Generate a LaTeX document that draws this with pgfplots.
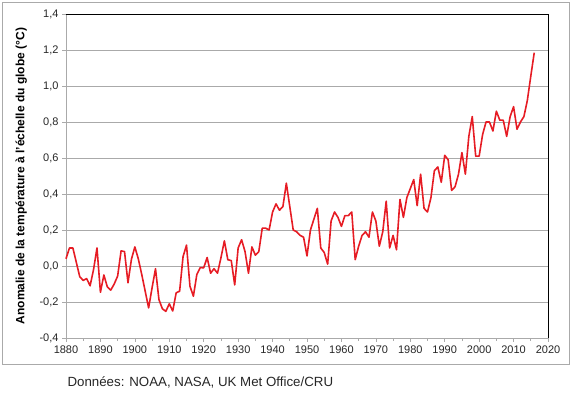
\documentclass[border=0pt]{standalone}
\usepackage{pgfplots}
\pgfplotsset{compat=1.18}
\usepackage{fontspec}
\setmainfont{Liberation Sans}
\definecolor{gridgray}{RGB}{170,170,170}
\definecolor{linered}{RGB}{230,28,36}
\begin{document}
\begin{tikzpicture}[x=1pt,y=1pt]
\path[use as bounding box] (0,0) rectangle (572,395);
\draw[gridgray,line width=0.8pt] (2,31) rectangle (569,393);
\begin{axis}[
  at={(66pt,57pt)}, anchor=south west,
  scale only axis, width=482pt, height=324pt,
  xmin=1880, xmax=2020, ymin=-0.4, ymax=1.4,
  xtick={1880,1890,...,2020},
  minor xtick={1885,1895,...,2015},
  ytick={-0.4,-0.2,...,1.41},
  xtick pos=bottom, ytick pos=left,
  tick align=outside,
  major tick length=4pt, minor tick length=3pt,
  every tick/.style={gridgray,line width=0.6pt},
  ymajorgrids, major grid style={gridgray,line width=0.7pt},
  axis line style={gridgray,line width=0.8pt},
  /pgf/number format/assume math mode=true,
  xticklabel style={/pgf/number format/.cd,set thousands separator={},fixed},
  yticklabel style={/pgf/number format/.cd,use comma,fixed,fixed zerofill,precision=1},
  ticklabel style={font=\fontsize{11}{13}\selectfont, text=black!85},
  ylabel={\textbf{Anomalie de la température à l'échelle du globe (°C)}},
  ylabel style={font=\fontsize{12}{14}\selectfont, at={(axis description cs:-0.093,0.5)}, anchor=center},
  clip=false,
]
\addplot[linered, line width=1.6pt, line join=round] coordinates {
(1880,0.04)(1881,0.10)(1882,0.10)(1883,0.02)(1884,-0.06)(1885,-0.08)(1886,-0.07)(1887,-0.11)(1888,-0.02)(1889,0.10)
(1890,-0.146)(1891,-0.05)(1892,-0.116)(1893,-0.134)(1894,-0.10)(1895,-0.056)(1896,0.084)(1897,0.08)(1898,-0.093)(1899,0.037)
(1900,0.106)(1901,0.04)(1902,-0.047)(1903,-0.14)(1904,-0.233)(1905,-0.121)(1906,-0.015)(1907,-0.187)(1908,-0.238)(1909,-0.252)
(1910,-0.21)(1911,-0.25)(1912,-0.149)(1913,-0.14)(1914,0.052)(1915,0.116)(1916,-0.112)(1917,-0.168)(1918,-0.047)(1919,-0.009)
(1920,-0.01)(1921,0.047)(1922,-0.04)(1923,-0.015)(1924,-0.04)(1925,0.045)(1926,0.14)(1927,0.035)(1928,0.03)(1929,-0.105)
(1930,0.10)(1931,0.146)(1932,0.08)(1933,-0.04)(1934,0.106)(1935,0.06)(1936,0.08)(1937,0.21)(1938,0.21)(1939,0.20)
(1940,0.30)(1941,0.345)(1942,0.31)(1943,0.33)(1944,0.46)(1945,0.33)(1946,0.20)(1947,0.19)(1948,0.17)(1949,0.16)
(1950,0.056)(1951,0.20)(1952,0.26)(1953,0.32)(1954,0.10)(1955,0.075)(1956,0.01)(1957,0.25)(1958,0.30)(1959,0.27)
(1960,0.22)(1961,0.28)(1962,0.28)(1963,0.30)(1964,0.035)(1965,0.11)(1966,0.17)(1967,0.19)(1968,0.16)(1969,0.30)
(1970,0.25)(1971,0.11)(1972,0.19)(1973,0.36)(1974,0.10)(1975,0.17)(1976,0.09)(1977,0.37)(1978,0.27)(1979,0.38)
(1980,0.43)(1981,0.48)(1982,0.335)(1983,0.51)(1984,0.32)(1985,0.30)(1986,0.38)(1987,0.53)(1988,0.55)(1989,0.465)
(1990,0.615)(1991,0.59)(1992,0.42)(1993,0.44)(1994,0.51)(1995,0.63)(1996,0.51)(1997,0.72)(1998,0.83)(1999,0.61)
(2000,0.61)(2001,0.73)(2002,0.80)(2003,0.80)(2004,0.75)(2005,0.86)(2006,0.81)(2007,0.81)(2008,0.72)(2009,0.83)
(2010,0.885)(2011,0.76)(2012,0.80)(2013,0.83)(2014,0.92)(2015,1.055)(2016,1.185)
};
\draw[black,line width=0.8pt] (rel axis cs:0,1) -- (rel axis cs:1,1) -- (rel axis cs:1,0);
\end{axis}
\node[anchor=base west, font=\fontsize{13.3}{15}\selectfont, text=black!85] at (64,8) {Données: NOAA, NASA, UK Met Office/CRU};
\end{tikzpicture}
\end{document}
